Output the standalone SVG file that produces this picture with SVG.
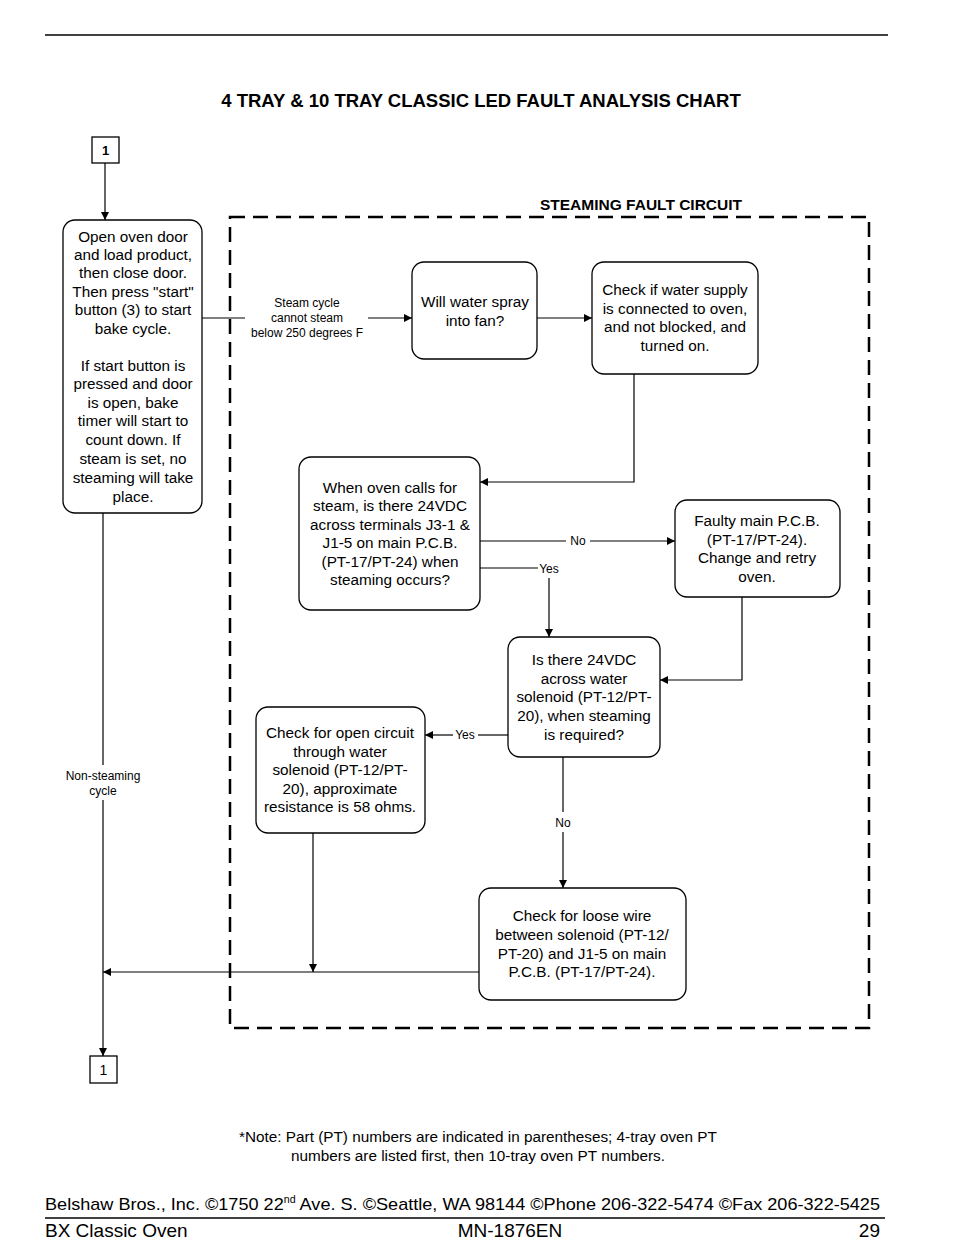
<svg xmlns="http://www.w3.org/2000/svg" width="954" height="1259" viewBox="0 0 954 1259">
<defs>
<marker id="ah" viewBox="0 0 10 10" refX="10" refY="5" markerWidth="10" markerHeight="8" markerUnits="userSpaceOnUse" orient="auto"><path d="M0,0 L10,5 L0,10 z" fill="#000"/></marker>
<style>
.t{font-family:"Liberation Sans",Arial,sans-serif;font-size:15.3px;fill:#000;text-anchor:middle}
.s{font-family:"Liberation Sans",Arial,sans-serif;font-size:12px;fill:#000;text-anchor:middle}
.b{fill:#fff;stroke:#000;stroke-width:1.3}
.c{fill:none;stroke:#000;stroke-width:1.2}
.a{fill:none;stroke:#000;stroke-width:1.2;marker-end:url(#ah)}
</style>
</defs>
<rect width="954" height="1259" fill="#fff"/>
<line x1="45" y1="35" x2="888" y2="35" stroke="#000" stroke-width="1.3"/>
<text x="481" y="107" style="font-family:'Liberation Sans',Arial,sans-serif;font-size:18.5px;font-weight:bold;text-anchor:middle">4 TRAY &amp; 10 TRAY CLASSIC LED FAULT ANALYSIS CHART</text>

<g id="circuit">
<rect x="230" y="217" width="639" height="811" fill="none" stroke="#000" stroke-width="2.5" stroke-dasharray="15 8"/>
<text x="641" y="210" style="font-family:'Liberation Sans',Arial,sans-serif;font-size:15.5px;font-weight:bold;text-anchor:middle">STEAMING FAULT CIRCUIT</text>
</g>

<g id="connectors">
<line class="a" x1="105" y1="163" x2="105" y2="220"/>
<polyline class="c" points="202,318 245,318"/>
<line class="a" x1="368" y1="318" x2="412" y2="318"/>
<line class="a" x1="537" y1="318" x2="592" y2="318"/>
<polyline class="a" points="634,374 634,482 480,482"/>
<line class="c" x1="480" y1="541" x2="566" y2="541"/>
<line class="a" x1="590" y1="541" x2="675" y2="541"/>
<line class="c" x1="480" y1="568" x2="538" y2="568"/>
<line class="a" x1="549" y1="578" x2="549" y2="637"/>
<polyline class="a" points="742,597 742,680 660,680"/>
<line class="c" x1="508" y1="735" x2="478" y2="735"/>
<line class="a" x1="453" y1="735" x2="425" y2="735"/>
<line class="c" x1="563" y1="757" x2="563" y2="812"/>
<line class="a" x1="563" y1="832" x2="563" y2="888"/>
<line class="a" x1="479" y1="972" x2="103" y2="972"/>
<line class="a" x1="313" y1="833" x2="313" y2="972"/>
<line class="c" x1="103" y1="513" x2="103" y2="765"/>
<line class="a" x1="103" y1="800" x2="103" y2="1056"/>
<text class="s" x="307" y="307">Steam cycle</text>
<text class="s" x="307" y="322">cannot steam</text>
<text class="s" x="307" y="337">below 250 degrees F</text>
<text class="s" x="578" y="545">No</text>
<text class="s" x="549" y="573">Yes</text>
<text class="s" x="465" y="739">Yes</text>
<text class="s" x="563" y="827">No</text>
<text class="s" x="103" y="780">Non-steaming</text>
<text class="s" x="103" y="795">cycle</text>
</g>

<g id="start1">
<rect x="92" y="137" width="27" height="26" fill="#fff" stroke="#000" stroke-width="1.3"/>
<text x="105.5" y="155" style="font-family:'Liberation Sans',Arial,sans-serif;font-size:13px;font-weight:bold;text-anchor:middle">1</text>
</g>

<g id="end1">
<rect x="90" y="1056" width="27" height="27" fill="#fff" stroke="#000" stroke-width="1.3"/>
<text x="103.5" y="1075" style="font-family:'Liberation Sans',Arial,sans-serif;font-size:14px;text-anchor:middle">1</text>
</g>

<g id="load">
<rect class="b" x="63" y="220" width="139" height="293" rx="12"/>
<text class="t" x="133" y="242">Open oven door</text>
<text class="t" x="133" y="260">and load product,</text>
<text class="t" x="133" y="278">then close door.</text>
<text class="t" x="133" y="297">Then press "start"</text>
<text class="t" x="133" y="315">button (3) to start</text>
<text class="t" x="133" y="334">bake cycle.</text>
<text class="t" x="133" y="371">If start button is</text>
<text class="t" x="133" y="389">pressed and door</text>
<text class="t" x="133" y="408">is open, bake</text>
<text class="t" x="133" y="426">timer will start to</text>
<text class="t" x="133" y="445">count down.  If</text>
<text class="t" x="133" y="464">steam is set, no</text>
<text class="t" x="133" y="483">steaming will take</text>
<text class="t" x="133" y="502">place.</text>
</g>

<g id="spray">
<rect class="b" x="412" y="262" width="125" height="97" rx="12"/>
<text class="t" x="475" y="307">Will water spray</text>
<text class="t" x="475" y="326">into fan?</text>
</g>

<g id="supply">
<rect class="b" x="592" y="262" width="166" height="112" rx="12"/>
<text class="t" x="675" y="295">Check if water supply</text>
<text class="t" x="675" y="314">is connected to oven,</text>
<text class="t" x="675" y="332">and not blocked, and</text>
<text class="t" x="675" y="351">turned on.</text>
</g>

<g id="calls">
<rect class="b" x="299" y="457" width="181" height="153" rx="12"/>
<text class="t" x="390" y="493">When oven calls for</text>
<text class="t" x="390" y="511">steam, is there 24VDC</text>
<text class="t" x="390" y="530">across terminals J3-1 &amp;</text>
<text class="t" x="390" y="548">J1-5 on main P.C.B.</text>
<text class="t" x="390" y="567">(PT-17/PT-24) when</text>
<text class="t" x="390" y="585">steaming occurs?</text>
</g>

<g id="faulty">
<rect class="b" x="675" y="500" width="165" height="97" rx="12"/>
<text class="t" x="757" y="526">Faulty main P.C.B.</text>
<text class="t" x="757" y="545">(PT-17/PT-24).</text>
<text class="t" x="757" y="563">Change and retry</text>
<text class="t" x="757" y="582">oven.</text>
</g>

<g id="solenoid">
<rect class="b" x="508" y="637" width="152" height="120" rx="12"/>
<text class="t" x="584" y="665">Is there 24VDC</text>
<text class="t" x="584" y="684">across water</text>
<text class="t" x="584" y="702">solenoid (PT-12/PT-</text>
<text class="t" x="584" y="721">20), when steaming</text>
<text class="t" x="584" y="740">is required?</text>
</g>

<g id="opencircuit">
<rect class="b" x="256" y="707" width="169" height="126" rx="12"/>
<text class="t" x="340" y="738">Check for open circuit</text>
<text class="t" x="340" y="757">through water</text>
<text class="t" x="340" y="775">solenoid (PT-12/PT-</text>
<text class="t" x="340" y="794">20), approximate</text>
<text class="t" x="340" y="812">resistance is 58 ohms.</text>
</g>

<g id="loose">
<rect class="b" x="479" y="888" width="207" height="112" rx="12"/>
<text class="t" x="582" y="921">Check for loose wire</text>
<text class="t" x="582" y="940">between solenoid (PT-12/</text>
<text class="t" x="582" y="959">PT-20) and J1-5 on main</text>
<text class="t" x="582" y="977">P.C.B. (PT-17/PT-24).</text>
</g>

<g id="footer" style="font-family:'Liberation Sans',Arial,sans-serif">
<text x="478" y="1142" style="font-size:15.3px;text-anchor:middle">*Note: Part (PT) numbers are indicated in parentheses; 4-tray oven PT</text>
<text x="478" y="1161" style="font-size:15.3px;text-anchor:middle">numbers are listed first, then 10-tray oven PT numbers.</text>
<text x="45" y="1210" style="font-size:17px" textLength="835" lengthAdjust="spacingAndGlyphs">Belshaw Bros., Inc. ©1750 22<tspan dy="-7" style="font-size:10px">nd</tspan><tspan dy="7"> Ave. S. ©Seattle, WA 98144 ©Phone 206-322-5474 ©Fax 206-322-5425</tspan></text>
<line x1="45" y1="1218" x2="885" y2="1218" stroke="#000" stroke-width="1.5"/>
<text x="45" y="1237" style="font-size:19px">BX Classic Oven</text>
<text x="510" y="1237" style="font-size:19px;text-anchor:middle">MN-1876EN</text>
<text x="880" y="1237" style="font-size:19px;text-anchor:end">29</text>
</g>
</svg>
